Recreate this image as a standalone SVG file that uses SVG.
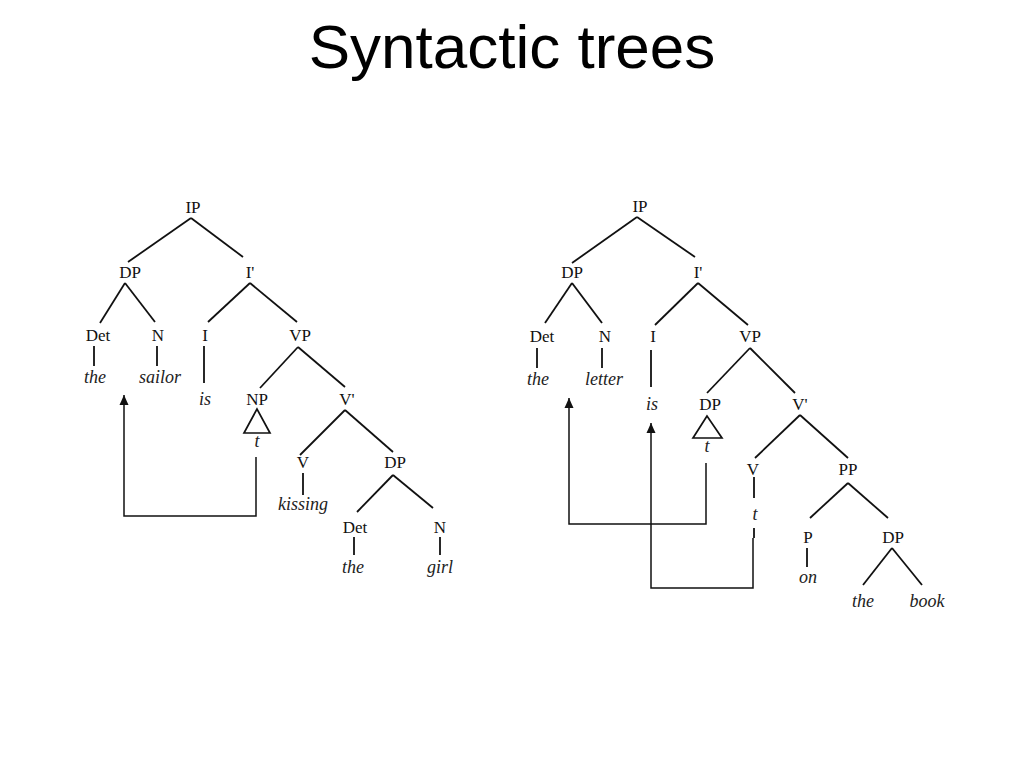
<svg xmlns="http://www.w3.org/2000/svg" width="1024" height="768" viewBox="0 0 1024 768">
<style>
.t{font-family:"Liberation Serif","Times New Roman",serif;font-size:17px;fill:#111;text-anchor:middle}
.i{font-family:"Liberation Serif","Times New Roman",serif;font-size:18px;font-style:italic;fill:#222;text-anchor:middle}
.title{font-family:"Liberation Sans",Arial,sans-serif;font-size:62px;fill:#000;text-anchor:middle}
.e{stroke:#111;stroke-width:1.8;fill:none}
.m{stroke:#111;stroke-width:1.5;fill:none}
.tri{stroke:#111;stroke-width:1.7;fill:#fff}
</style>
<defs>
<marker id="ah" viewBox="0 0 10 10" refX="10" refY="5" markerWidth="11" markerHeight="10" markerUnits="userSpaceOnUse" orient="auto">
<path d="M0,0.5 L10,5 L0,9.5 Z" fill="#111"/>
</marker>
</defs>
<rect width="1024" height="768" fill="#fff"/>
<text class="title" x="512" y="68">Syntactic trees</text>

<g id="connectors">
<!-- left tree -->
<line class="e" x1="191" y1="218" x2="128" y2="262"/>
<line class="e" x1="191" y1="218" x2="243" y2="257"/>
<line class="e" x1="125" y1="283" x2="100" y2="323"/>
<line class="e" x1="125" y1="283" x2="155" y2="322"/>
<line class="e" x1="250" y1="283" x2="208" y2="322"/>
<line class="e" x1="250" y1="283" x2="297" y2="322"/>
<line class="e" x1="94" y1="346" x2="94" y2="366"/>
<line class="e" x1="157" y1="346" x2="157" y2="366"/>
<line class="e" x1="204" y1="346" x2="204" y2="383"/>
<line class="e" x1="298" y1="347" x2="260" y2="388"/>
<line class="e" x1="298" y1="347" x2="345" y2="387"/>
<line class="e" x1="345" y1="410" x2="300" y2="455"/>
<line class="e" x1="345" y1="410" x2="393" y2="452"/>
<line class="e" x1="303" y1="473" x2="303" y2="495"/>
<line class="e" x1="393" y1="475" x2="357" y2="512"/>
<line class="e" x1="393" y1="475" x2="433" y2="508"/>
<line class="e" x1="354" y1="537" x2="354" y2="555"/>
<line class="e" x1="440" y1="537" x2="440" y2="555"/>
<path class="m" d="M256,457 V516 H124 V395" marker-end="url(#ah)"/>
<!-- right tree -->
<line class="e" x1="637" y1="217" x2="572" y2="263"/>
<line class="e" x1="637" y1="217" x2="695" y2="257"/>
<line class="e" x1="572" y1="283" x2="545" y2="323"/>
<line class="e" x1="572" y1="283" x2="602" y2="323"/>
<line class="e" x1="698" y1="283" x2="655" y2="325"/>
<line class="e" x1="698" y1="283" x2="748" y2="325"/>
<line class="e" x1="537" y1="348" x2="537" y2="368"/>
<line class="e" x1="602" y1="348" x2="602" y2="368"/>
<line class="e" x1="651" y1="350" x2="651" y2="387"/>
<line class="e" x1="750" y1="348" x2="707" y2="393"/>
<line class="e" x1="750" y1="348" x2="795" y2="393"/>
<line class="e" x1="800" y1="415" x2="755" y2="458"/>
<line class="e" x1="800" y1="415" x2="848" y2="458"/>
<line class="e" x1="754" y1="477" x2="754" y2="498"/>
<line class="e" x1="754" y1="528" x2="754" y2="538"/>
<line class="e" x1="848" y1="483" x2="810" y2="518"/>
<line class="e" x1="848" y1="483" x2="888" y2="518"/>
<line class="e" x1="807" y1="548" x2="807" y2="567"/>
<line class="e" x1="892" y1="548" x2="863" y2="585"/>
<line class="e" x1="892" y1="548" x2="922" y2="585"/>
<path class="m" d="M706,463 V524 H569 V398" marker-end="url(#ah)"/>
<path class="m" d="M753,538 V588 H651 V423" marker-end="url(#ah)"/>
</g>

<g id="left-tree">
<g id="l-IP"><text class="t" x="193" y="213">IP</text></g>
<g id="l-DP"><text class="t" x="130" y="278">DP</text></g>
<g id="l-Ibar"><text class="t" x="250" y="278">I'</text></g>
<g id="l-Det"><text class="t" x="98" y="341">Det</text></g>
<g id="l-N"><text class="t" x="158" y="341">N</text></g>
<g id="l-I"><text class="t" x="205" y="341">I</text></g>
<g id="l-VP"><text class="t" x="300" y="341">VP</text></g>
<g id="l-the"><text class="i" x="95" y="383">the</text></g>
<g id="l-sailor"><text class="i" x="160" y="383">sailor</text></g>
<g id="l-is"><text class="i" x="205" y="405">is</text></g>
<g id="l-NP"><text class="t" x="257" y="405">NP</text><polygon class="tri" points="257,409 244,433 270,433"/><text class="i" x="257" y="447">t</text></g>
<g id="l-Vbar"><text class="t" x="347" y="405">V'</text></g>
<g id="l-V"><text class="t" x="303" y="468">V</text></g>
<g id="l-DP2"><text class="t" x="395" y="468">DP</text></g>
<g id="l-kissing"><text class="i" x="303" y="510">kissing</text></g>
<g id="l-Det2"><text class="t" x="355" y="533">Det</text></g>
<g id="l-N2"><text class="t" x="440" y="533">N</text></g>
<g id="l-the2"><text class="i" x="353" y="573">the</text></g>
<g id="l-girl"><text class="i" x="440" y="573">girl</text></g>
</g>

<g id="right-tree">
<g id="r-IP"><text class="t" x="640" y="212">IP</text></g>
<g id="r-DP"><text class="t" x="572" y="278">DP</text></g>
<g id="r-Ibar"><text class="t" x="698" y="278">I'</text></g>
<g id="r-Det"><text class="t" x="542" y="342">Det</text></g>
<g id="r-N"><text class="t" x="605" y="342">N</text></g>
<g id="r-I"><text class="t" x="653" y="342">I</text></g>
<g id="r-VP"><text class="t" x="750" y="342">VP</text></g>
<g id="r-the"><text class="i" x="538" y="385">the</text></g>
<g id="r-letter"><text class="i" x="604" y="385">letter</text></g>
<g id="r-is"><text class="i" x="652" y="410">is</text></g>
<g id="r-DP2"><text class="t" x="710" y="410">DP</text><polygon class="tri" points="707,416 693,438 722,438"/><text class="i" x="707" y="452">t</text></g>
<g id="r-Vbar"><text class="t" x="800" y="410">V'</text></g>
<g id="r-V"><text class="t" x="753" y="475">V</text></g>
<g id="r-t"><text class="i" x="755" y="520">t</text></g>
<g id="r-PP"><text class="t" x="848" y="475">PP</text></g>
<g id="r-P"><text class="t" x="808" y="543">P</text></g>
<g id="r-DP3"><text class="t" x="893" y="543">DP</text></g>
<g id="r-on"><text class="i" x="808" y="583">on</text></g>
<g id="r-the2"><text class="i" x="863" y="607">the</text></g>
<g id="r-book"><text class="i" x="927" y="607">book</text></g>
</g>
</svg>
